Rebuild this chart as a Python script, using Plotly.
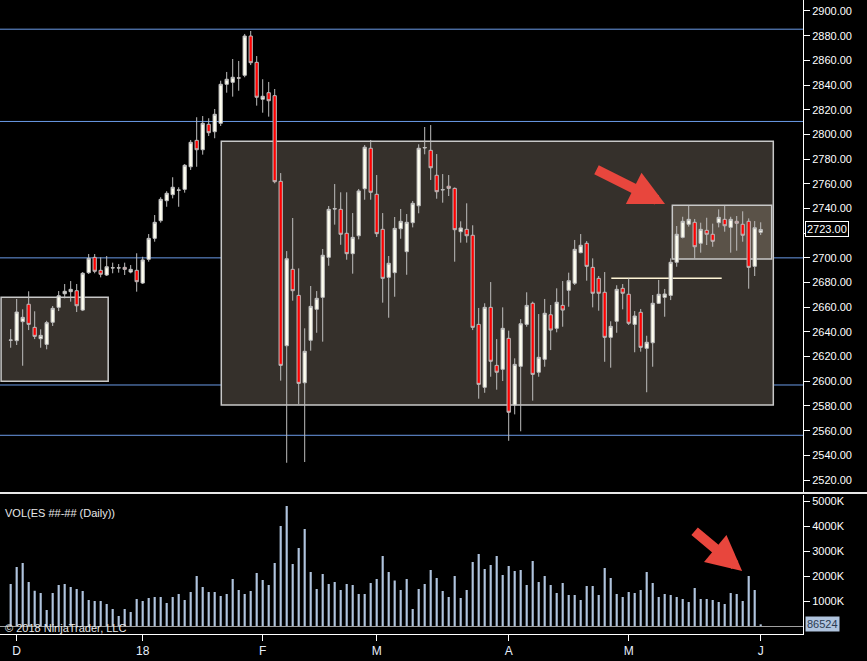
import plotly.graph_objects as go

# ---------------- data ----------------
bar_index = list(range(126))

opens = [2633.5, 2632.9, 2648.3, 2662.4, 2643.7, 2634.5, 2629.9, 2647.8, 2659.9, 2670.9,
         2672.6, 2673.4, 2657.7, 2688.0, 2700.4, 2689.9, 2686.1, 2691.8, 2692.0, 2692.3,
         2688.5, 2689.9, 2679.6, 2698.8, 2715.8, 2730.1, 2746.3, 2751.2, 2755.0, 2755.5,
         2773.8, 2795.2, 2787.6, 2808.2, 2802.2, 2809.0, 2840.6, 2842.2, 2845.9, 2847.9,
         2879.7, 2858.4, 2828.5, 2833.8, 2831.4, 2762.0, 2628.8, 2690.7, 2669.6, 2598.8,
         2633.2, 2658.3, 2668.0, 2700.4, 2740.0, 2739.3, 2719.9, 2703.4, 2717.9, 2756.0,
         2788.8, 2751.5, 2723.1, 2684.2, 2688.0, 2723.6, 2705.0, 2728.5, 2742.2, 2789.0,
         2787.1, 2766.9, 2755.4, 2758.0, 2756.3, 2721.2, 2723.1, 2718.3, 2646.1, 2595.1,
         2659.9, 2612.9, 2609.7, 2634.8, 2580.8, 2612.1, 2646.1, 2663.2, 2607.3, 2617.8,
         2653.9, 2642.9, 2661.5, 2673.7, 2679.4, 2704.2, 2711.8, 2692.3, 2683.4, 2672.1,
         2635.6, 2648.6, 2675.3, 2670.5, 2646.1, 2655.9, 2626.7, 2631.2, 2663.2, 2668.0,
         2669.6, 2696.4, 2716.6, 2727.2, 2728.8, 2711.8, 2722.3, 2719.1, 2728.5, 2731.2,
         2724.7, 2729.6, 2727.2, 2729.6, 2693.1, 2720.7]

highs = [2642.3, 2666.7, 2658.3, 2672.9, 2656.7, 2642.1, 2649.0, 2661.0, 2673.1, 2678.8,
         2681.2, 2678.8, 2688.5, 2703.1, 2703.1, 2700.4, 2701.5, 2696.1, 2695.0, 2696.1,
         2694.2, 2703.7, 2700.9, 2719.3, 2734.7, 2749.1, 2754.0, 2765.3, 2757.2, 2776.0,
         2795.5, 2813.9, 2814.9, 2813.1, 2820.6, 2843.5, 2850.6, 2861.1, 2859.5, 2881.4,
         2883.8, 2863.5, 2844.7, 2842.5, 2836.8, 2768.7, 2705.5, 2732.3, 2691.5, 2642.9,
         2677.2, 2673.1, 2707.2, 2742.0, 2759.8, 2753.1, 2753.1, 2736.3, 2755.8, 2791.4,
         2795.5, 2767.1, 2736.3, 2701.5, 2733.1, 2739.6, 2735.5, 2746.1, 2792.0, 2806.0,
         2807.6, 2784.1, 2767.9, 2767.1, 2757.0, 2729.6, 2744.2, 2726.4, 2659.4, 2663.2,
         2680.4, 2634.2, 2659.9, 2641.0, 2618.6, 2650.4, 2672.1, 2664.5, 2654.5, 2666.7,
         2661.8, 2675.3, 2681.2, 2688.0, 2714.5, 2719.3, 2713.6, 2699.6, 2685.3, 2688.5,
         2648.6, 2677.8, 2678.8, 2683.4, 2656.9, 2658.6, 2636.9, 2669.9, 2682.1, 2674.8,
         2699.6, 2725.8, 2733.3, 2742.2, 2731.5, 2728.5, 2732.5, 2727.7, 2739.3, 2742.2,
         2733.3, 2733.9, 2737.7, 2732.0, 2729.8, 2728.8]

lows = [2627.2, 2629.4, 2612.6, 2641.5, 2634.2, 2627.2, 2625.9, 2644.8, 2656.9, 2667.2,
        2664.5, 2656.1, 2656.9, 2686.9, 2687.5, 2684.2, 2685.3, 2687.5, 2688.0, 2686.1,
        2687.5, 2672.6, 2678.8, 2696.9, 2713.1, 2728.5, 2741.4, 2748.2, 2741.4, 2752.8,
        2771.2, 2773.8, 2783.6, 2798.7, 2796.9, 2806.8, 2833.8, 2830.6, 2835.4, 2846.3,
        2856.2, 2823.3, 2817.6, 2814.4, 2760.4, 2600.5, 2534.0, 2665.3, 2581.6, 2534.6,
        2624.8, 2639.3, 2632.1, 2693.6, 2726.9, 2710.6, 2698.5, 2687.2, 2715.0, 2747.1,
        2747.1, 2716.9, 2663.7, 2651.5, 2668.5, 2715.5, 2686.3, 2724.7, 2736.1, 2783.9,
        2763.1, 2747.9, 2744.7, 2750.1, 2696.9, 2712.3, 2712.3, 2641.5, 2585.9, 2590.7,
        2603.7, 2593.2, 2600.2, 2551.8, 2573.2, 2559.5, 2644.2, 2584.3, 2603.7, 2611.8,
        2625.3, 2639.7, 2644.2, 2660.4, 2678.0, 2703.7, 2681.5, 2659.9, 2657.2, 2615.8,
        2611.0, 2639.3, 2658.3, 2645.6, 2623.5, 2624.0, 2591.1, 2611.8, 2662.6, 2652.3,
        2665.8, 2692.8, 2715.8, 2725.3, 2699.6, 2704.2, 2710.4, 2709.0, 2724.7, 2721.2,
        2704.2, 2705.8, 2713.1, 2675.0, 2685.3, 2718.5]

closes = [2633.25, 2656.1, 2651.8, 2646.1, 2636.4, 2637.2, 2647.5, 2659.1, 2669.3, 2672.9,
          2674.5, 2661.2, 2687.5, 2699.6, 2689.1, 2686.7, 2692.8, 2692.0, 2691.8, 2690.7,
          2690.7, 2680.7, 2698.3, 2715.8, 2728.8, 2747.4, 2752.3, 2757.2, 2754.8, 2775.0,
          2793.6, 2787.6, 2809.0, 2801.4, 2816.3, 2840.6, 2844.7, 2846.3, 2845.6, 2879.7,
          2858.1, 2830.1, 2830.9, 2827.3, 2761.7, 2612.9, 2699.3, 2673.4, 2598.3, 2624.3,
          2660.7, 2667.2, 2702.1, 2739.3, 2739.6, 2719.1, 2703.4, 2716.6, 2754.2, 2789.6,
          2753.1, 2719.6, 2683.4, 2695.6, 2723.9, 2729.6, 2728.8, 2744.2, 2788.8, 2789.4,
          2773.0, 2753.6, 2755.1, 2756.3, 2722.8, 2724.2, 2717.9, 2643.7, 2597.5, 2659.9,
          2616.2, 2607.3, 2642.9, 2574.9, 2613.7, 2646.6, 2661.5, 2605.6, 2619.4, 2655.1,
          2641.5, 2664.0, 2657.7, 2681.5, 2706.9, 2710.2, 2693.1, 2671.3, 2671.3, 2635.6,
          2644.5, 2674.5, 2671.3, 2647.0, 2652.9, 2627.5, 2631.6, 2663.2, 2670.5, 2670.7,
          2696.4, 2719.1, 2729.6, 2731.2, 2709.0, 2723.1, 2719.1, 2713.4, 2732.8, 2726.0,
          2731.2, 2728.0, 2718.3, 2692.3, 2724.4, 2723.0]

volumes_k = [1700, 2380, 2540, 1780, 1430, 1340, 660, 1340, 1660, 1700,
             1580, 1500, 1420, 1060, 1020, 1020, 900, 700, 420, 700,
             580, 1100, 1020, 1140, 1180, 1180, 940, 1180, 1300, 1060,
             1380, 2020, 1580, 1380, 1380, 1220, 1300, 1900, 1460, 1300,
             1420, 2140, 1860, 1660, 2540, 4020, 4820, 2500, 3140, 3900,
             2180, 1500, 2100, 1700, 1780, 1460, 1700, 1660, 1300, 1300,
             1740, 1900, 2820, 2180, 1840, 1460, 1900, 700, 1500, 1700,
             2260, 1940, 1420, 1180, 2020, 1140, 1460, 2580, 2900, 2300,
             2460, 2820, 2060, 2420, 2220, 2260, 1660, 2620, 1780, 2020,
             1660, 1340, 1740, 1260, 1260, 1060, 1620, 1620, 1260, 2340,
             1940, 1300, 1180, 1380, 1340, 1460, 2180, 1740, 1180, 1300,
             1260, 1180, 1100, 980, 1540, 1100, 1100, 1060, 980, 900,
             1340, 1300, 1020, 2020, 1460, 86.524]
volumes = [v * 1000 for v in volumes_k]

tick_positions = [1, 22, 42, 61, 83, 103, 125]
tick_labels = ["D", "18", "F", "M", "A", "M", "J"]

price_ticks = list(range(2520, 2901, 20))
vol_ticks = [1000000, 2000000, 3000000, 4000000, 5000000]
vol_tick_labels = ["1000K", "2000K", "3000K", "4000K", "5000K"]

level_lines = [2885.25, 2810.5, 2700.0, 2597.0, 2556.25]
box_zones = [  # (x_start, x_end, price_low, price_high, fill)
    (-1.6, 16.25, 2600.0, 2668.0, "#35302b"),
    (35.1, 127.1, 2580.8, 2794.4, "#35302b"),
    (110.27, 126.83, 2699.1, 2742.6, "#5a5248"),
]
pivot_line = (100.1, 118.5, 2683.4)
last_price = 2723.00
last_volume = 86524

FONT = "Liberation Sans, Arial, sans-serif"
W, H = 867, 661
x_right = 803 / W

# the last-price marker covers the nearest price label, as in the reference
price_tick_text = ["" if abs(t - last_price) < 8 else f"{t:.2f}" for t in price_ticks]

fig = go.Figure()

fig.add_trace(go.Candlestick(
    x=bar_index, open=opens, high=highs, low=lows, close=closes,
    increasing=dict(line=dict(color="#bdbdbd", width=1), fillcolor="#fffff0"),
    decreasing=dict(line=dict(color="#bdbdbd", width=1), fillcolor="#ff0000"),
    whiskerwidth=0, xaxis="x", yaxis="y", hoverinfo="skip", showlegend=False,
))

fig.add_trace(go.Bar(
    x=bar_index, y=volumes, width=0.36, marker=dict(color="#b0c4de", line=dict(width=0)),
    xaxis="x", yaxis="y2", hoverinfo="skip", showlegend=False,
))

shapes = []
for x0, x1, lo, hi, fill in box_zones:
    shapes.append(dict(type="rect", xref="x", yref="y", x0=x0, x1=x1, y0=lo, y1=hi,
                       fillcolor=fill, line=dict(color="#c8c8c8", width=1.5), layer="below"))
for lv in level_lines:
    shapes.append(dict(type="line", xref="paper", yref="y", x0=0, x1=x_right, y0=lv, y1=lv,
                       line=dict(color="#6a9ae6", width=1), layer="below"))
shapes.append(dict(type="line", xref="x", yref="y", x0=pivot_line[0], x1=pivot_line[1],
                   y0=pivot_line[2], y1=pivot_line[2], line=dict(color="#fff5d6", width=1.5),
                   layer="below"))
# pane separator
sep_y = (H - 493) / H
shapes.append(dict(type="line", xref="paper", yref="paper", x0=0, x1=1, y0=sep_y, y1=sep_y,
                   line=dict(color="#e8e8e8", width=2)))
# volume zero line
shapes.append(dict(type="line", xref="paper", yref="y2", x0=0, x1=x_right, y0=0, y1=0,
                   line=dict(color="#a0a0a0", width=1)))

annotations = [
    dict(x=109.05, y=2743.6, xref="x", yref="y", ax=-70, ay=-35, text="", showarrow=True,
         arrowhead=2, arrowsize=0.7, arrowwidth=10, arrowcolor="#e8463d", standoff=0),
    dict(x=121.9, y=2220000, xref="x", yref="y2", ax=-49, ay=-41, text="", showarrow=True,
         arrowhead=2, arrowsize=0.7, arrowwidth=10, arrowcolor="#e8463d", standoff=0),
    dict(x=3 / W, y=(H - 512.5) / H, xref="paper", yref="paper", xanchor="left",
         yanchor="middle", text="VOL(ES ##-## (Daily))", showarrow=False,
         font=dict(family=FONT, size=11, color="#e8e8e8")),
    dict(x=3 / W, y=(H - 628) / H, xref="paper", yref="paper", xanchor="left",
         yanchor="middle", text="© 2018 NinjaTrader, LLC", showarrow=False,
         font=dict(family=FONT, size=11, color="#e8e8e8")),
    dict(x=805 / W, y=last_price, xref="paper", yref="y", xanchor="left", yanchor="middle",
         text=f"{last_price:.2f}", showarrow=False, bgcolor="#000000", bordercolor="#ffffff",
         borderwidth=1, borderpad=1, font=dict(family=FONT, size=11, color="#ffffff")),
    dict(x=805 / W, y=last_volume, xref="paper", yref="y2", xanchor="left", yanchor="middle",
         text=f"{last_volume}", showarrow=False, bgcolor="#b0c4de", borderpad=1,
         font=dict(family=FONT, size=11, color="#2b3b52")),
]

fig.update_layout(
    width=W, height=H, margin=dict(l=0, r=0, t=0, b=0),
    paper_bgcolor="#000000", plot_bgcolor="#000000",
    boxgap=0.22,
    shapes=shapes, annotations=annotations, showlegend=False,
    xaxis=dict(domain=[0, x_right], range=[-1.78, 132.05], anchor="y2",
               tickvals=tick_positions, ticktext=tick_labels, ticks="outside", ticklen=6,
               tickcolor="#ffffff", tickfont=dict(family=FONT, size=12, color="#e6eefa"),
               showline=True, linecolor="#ffffff", linewidth=1, showgrid=False,
               zeroline=False, rangeslider=dict(visible=False)),
    yaxis=dict(domain=[(H - 493) / H, 1], range=[2509.5, 2908.9], side="right", anchor="x",
               tickvals=price_ticks, ticktext=price_tick_text, ticks="outside", ticklen=6,
               tickcolor="#ffffff", tickfont=dict(family=FONT, size=11, color="#ffffff"),
               showline=True, linecolor="#ffffff", linewidth=1, showgrid=False,
               zeroline=False),
    yaxis2=dict(domain=[27 / H, (H - 495) / H], range=[-300000, 5260000], side="right",
                anchor="x", tickvals=vol_ticks, ticktext=vol_tick_labels, ticks="outside",
                ticklen=6, tickcolor="#ffffff",
                tickfont=dict(family=FONT, size=11, color="#ffffff"),
                showline=True, linecolor="#ffffff", linewidth=1, showgrid=False,
                zeroline=False),
)

fig.write_html(
    "out.html",
    config={"displayModeBar": False, "staticPlot": True},
    post_script="document.body.style.margin='0';document.body.style.overflow='hidden';"
                "document.body.style.background='#000';",
)
